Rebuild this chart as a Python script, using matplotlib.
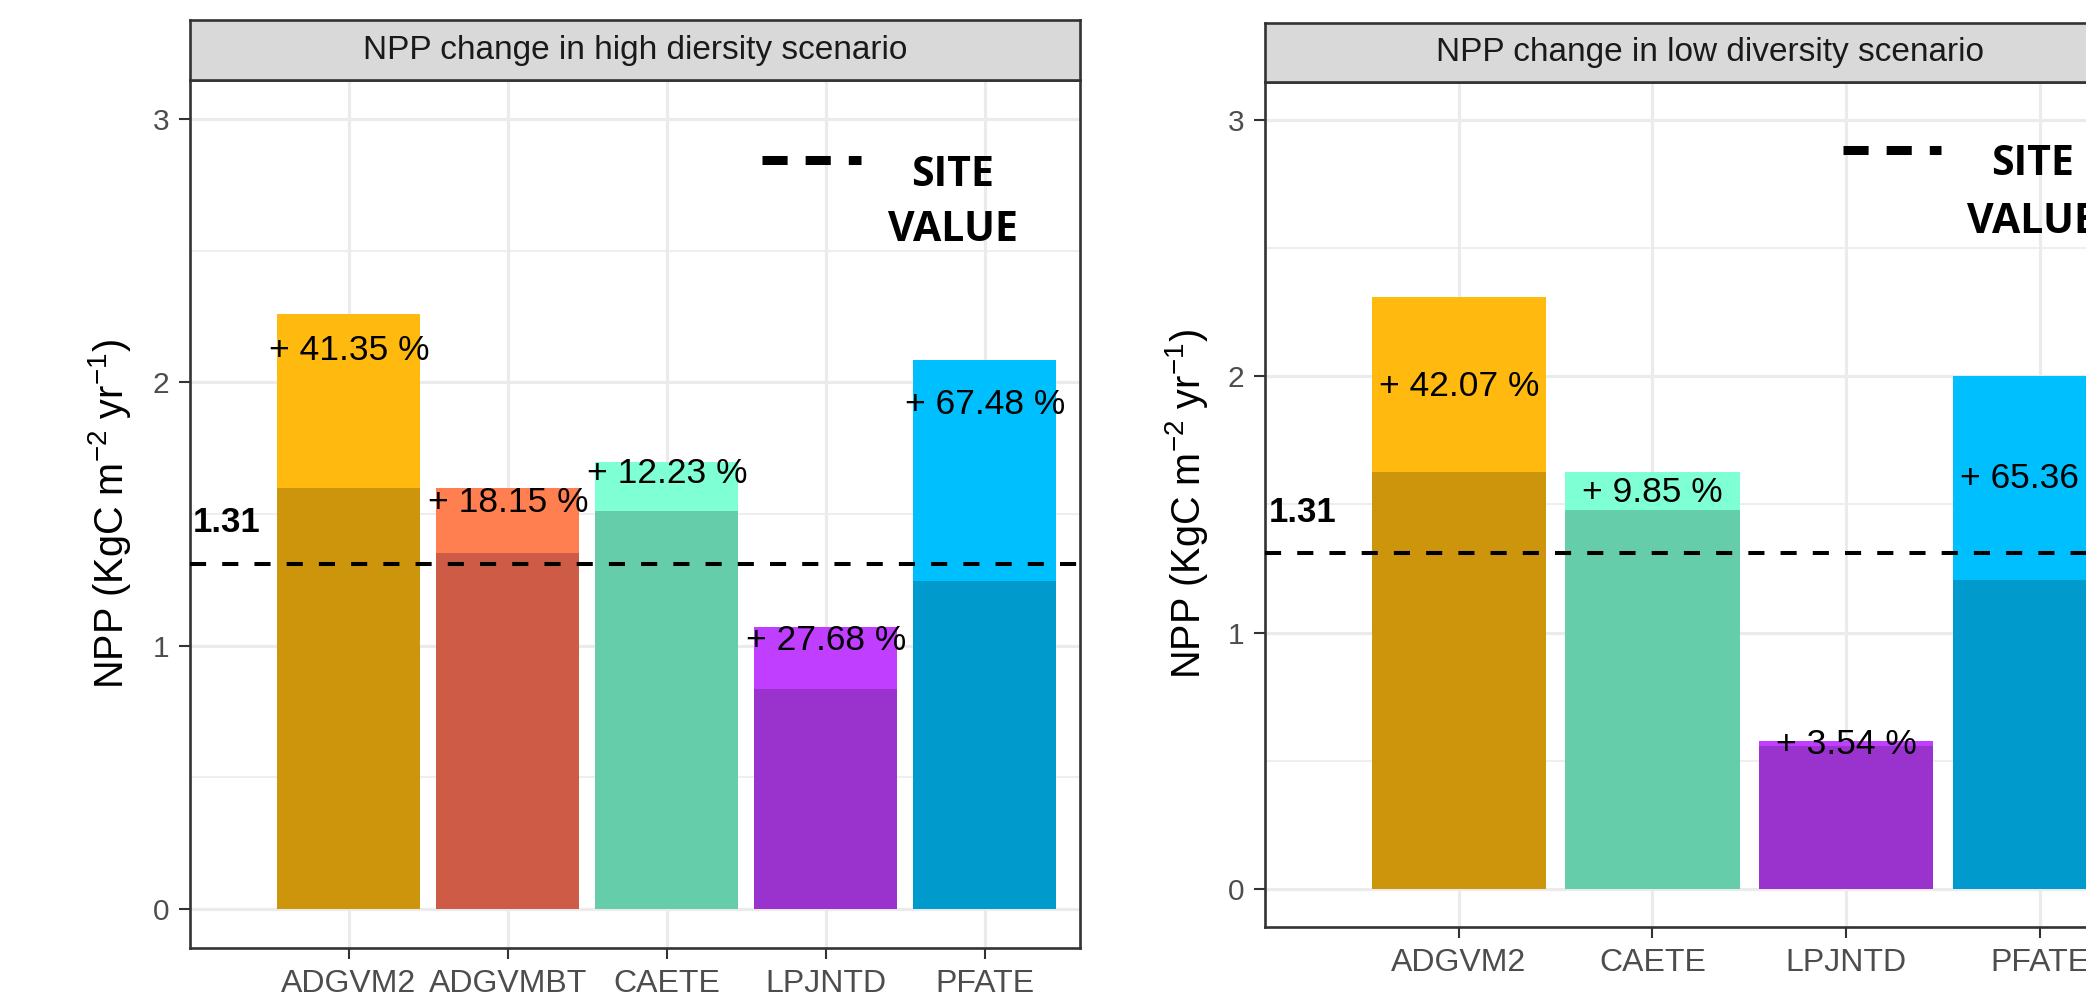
import matplotlib
matplotlib.use('Agg')
import matplotlib.pyplot as plt
import numpy as np

plt.rcParams['font.family'] = ['Liberation Sans', 'DejaVu Sans']
plt.rcParams['mathtext.fontset'] = 'custom'
plt.rcParams['mathtext.rm'] = 'Liberation Sans'
plt.rcParams['mathtext.it'] = 'Liberation Sans:italic'

# data
site_value = 1.31

high_models = ['ADGVM2', 'ADGVMBT', 'CAETE', 'LPJNTD', 'PFATE']
high_base = [1.598, 1.350, 1.513, 0.836, 1.244]
high_total = [2.261, 1.598, 1.699, 1.070, 2.086]
high_pct = [41.35, 18.15, 12.23, 27.68, 67.48]
high_label_y = [2.122, 1.543, 1.655, 1.019, 1.917]

low_models = ['ADGVM2', 'CAETE', 'LPJNTD', 'PFATE']
low_base = [1.626, 1.477, 0.556, 1.206]
low_total = [2.309, 1.626, 0.578, 2.000]
low_pct = [42.07, 9.85, 3.54, 65.36]
low_label_y = [1.962, 1.545, 0.563, 1.600]

dark_cols = {'ADGVM2': '#CD950C', 'ADGVMBT': '#CD5B45', 'CAETE': '#66CDAA',
             'LPJNTD': '#9A32CD', 'PFATE': '#009ACD'}
light_cols = {'ADGVM2': '#FFB90F', 'ADGVMBT': '#FF7F50', 'CAETE': '#7FFFD4',
              'LPJNTD': '#BF3EFF', 'PFATE': '#00BFFF'}

W, H = 2086, 1007
fig = plt.figure(figsize=(W / 100, H / 100), dpi=100)


def px_axes(x0, y0, x1, y1):
    # pixel box (top-left origin) -> figure fraction
    return [x0 / W, 1 - y1 / H, (x1 - x0) / W, (y1 - y0) / H]


def panel(box, strip_box, title, models, base, total, pct, label_y,
          leg_x, leg_y, site_x, site_y, value_y):
    ax = fig.add_axes(px_axes(*box))
    x = np.arange(1, len(models) + 1)
    ax.bar(x, total, width=0.9, color=[light_cols[m] for m in models], zorder=2)
    ax.bar(x, base, width=0.9, color=[dark_cols[m] for m in models], zorder=2)
    for xi, p, yl in zip(x, pct, label_y):
        ax.text(xi, yl, f'+ {p:.2f} %', ha='center', va='center',
                fontsize=25.5, color='black', zorder=4)
    ax.axhline(site_value, color='black', lw=2.9, linestyle=(0, (4, 4)), zorder=3)
    ax.text(0.02, 1.468, f'{site_value:.2f}', ha='left', va='center',
            fontsize=25, fontweight='bold', color='black', zorder=4)
    # legend-like annotation
    ax.plot(leg_x, [leg_y, leg_y], color='black', lw=6.5,
            linestyle=(0, (2.78, 2.0)), solid_capstyle='butt', zorder=4)
    ax.text(site_x, site_y, 'SITE', ha='center', va='center', fontsize=29.5,
            fontweight='bold', family='Open Sans', zorder=4)
    ax.text(site_x, value_y, 'VALUE', ha='center', va='center', fontsize=29.5,
            fontweight='bold', family='Open Sans', zorder=4)

    ax.set_xlim(0, len(models) + 0.6)
    ax.set_ylim(-0.15, 3.15)
    ax.set_xticks(x)
    ax.set_xticklabels(models)
    ax.set_yticks([0, 1, 2, 3])
    ax.set_yticks([0.5, 1.5, 2.5], minor=True)
    ax.tick_params(axis='both', which='major', length=8, width=1.5,
                   color='#333333', labelcolor='#4D4D4D', pad=7)
    ax.tick_params(axis='x', labelsize=23)
    ax.tick_params(axis='y', labelsize=21.5)
    ax.tick_params(axis='y', which='minor', length=0)
    ax.grid(True, which='major', color='#EBEBEB', lw=2.3)
    ax.grid(True, which='minor', axis='y', color='#EBEBEB', lw=1.2)
    ax.set_axisbelow(True)
    for s in ax.spines.values():
        s.set_color('#333333')
        s.set_linewidth(1.9)
    ax.set_ylabel('NPP (KgC m$^{-2}$ yr$^{-1}$)', fontsize=28.5, color='black')

    st = fig.add_axes(px_axes(*strip_box))
    st.set_facecolor('#D9D9D9')
    st.set_xticks([])
    st.set_yticks([])
    for s in st.spines.values():
        s.set_color('#333333')
        s.set_linewidth(1.9)
    st.text(0.5, 0.5, title, ha='center', va='center', fontsize=24,
            color='#1A1A1A', transform=st.transAxes)
    return ax


ax1 = panel((190, 80, 1080, 948), (190, 20, 1080, 80),
            'NPP change in high diersity scenario',
            high_models, high_base, high_total, high_pct, high_label_y,
            [3.60, 4.22], 2.844, 4.80, 2.787, 2.576)
ax1.yaxis.set_label_coords(-0.064, 0.5)

ax2 = panel((1265, 82, 2156, 927), (1265, 23, 2156, 82),
            'NPP change in low diversity scenario',
            low_models, low_base, low_total, low_pct, low_label_y,
            [2.985, 3.49], 2.883, 3.96, 2.828, 2.60)
ax2.yaxis.set_label_coords(-0.062, 0.5)

fig.savefig('out.png', dpi=100)
